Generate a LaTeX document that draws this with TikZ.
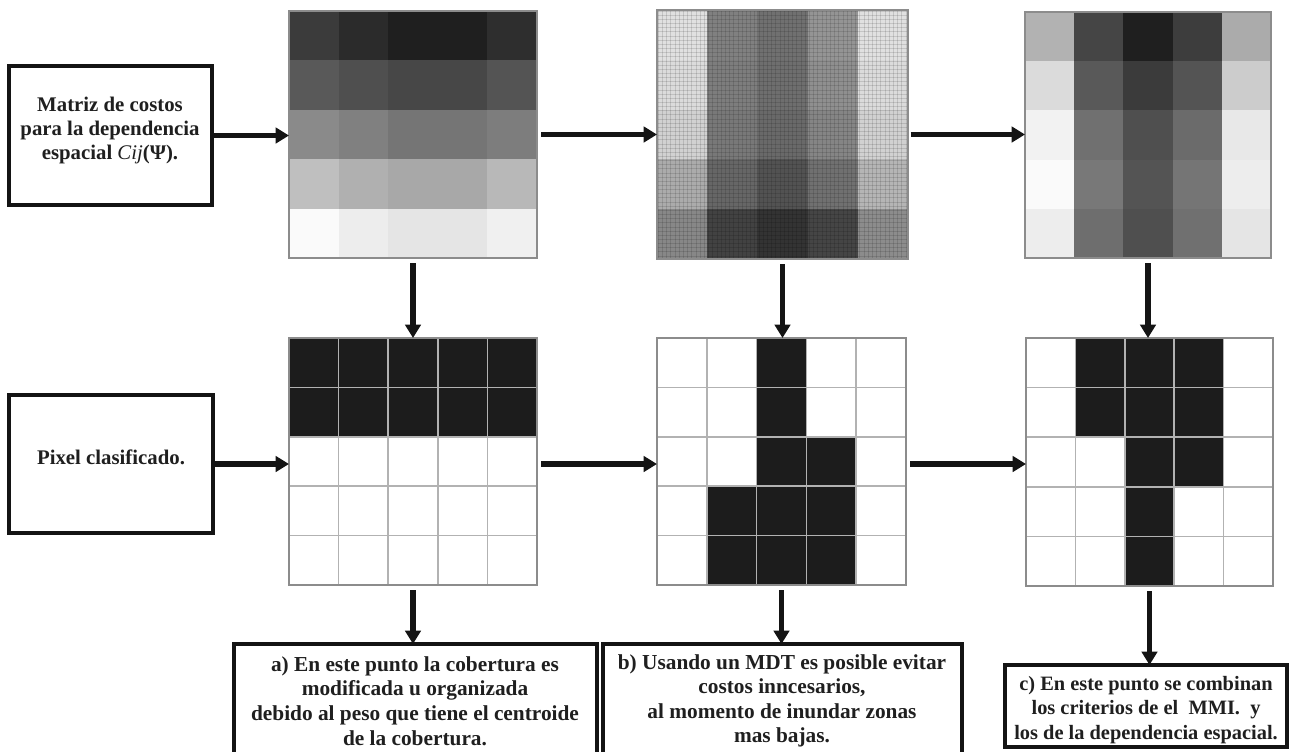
\documentclass[tikz,border=0pt]{standalone}
\usepackage{fontspec}
\setmainfont{Liberation Serif}
\usetikzlibrary{arrows.meta,fit,calc}

\tikzset{
  arr/.style={line width=3.9pt, black!92, -{Triangle[length=10pt,width=11.5pt]}},
  box/.style={draw=black!92, line width=2.6pt, inner sep=0pt, outer sep=0pt},
  area/.style={inner sep=0pt, outer sep=0pt},
  txt/.style={font=\bfseries\fontsize{16pt}{18.4pt}\selectfont, align=center, text=black!88},
  ctxt/.style={font=\bfseries\fontsize{15.3pt}{18.4pt}\selectfont, align=center, text=black!88},
  ltxt/.style={font=\bfseries\fontsize{15.6pt}{18pt}\selectfont, align=center, text=black!88},
  gridln/.style={draw=black!30, line width=1.1pt},
  matborder/.style={draw=black!45, line width=1pt},
  hatch/.style={draw=black, opacity=0.12, line width=0.4pt}
}

% x0, y0, cell width, cell height, 25 values (percent black)
\newcommand\graymat[5]{%
  \foreach \v [count=\k from 0] in {#5} {
    \pgfmathtruncatemacro\mrow{floor(\k/5)}
    \pgfmathtruncatemacro\mcol{mod(\k,5)}
    \fill[black!\v] ({#1+\mcol*#3},{#2+\mrow*#4}) rectangle ++({#3+0.4},{#4+0.4});
  }
}
\newcommand\gridlines[4]{%
  \foreach \i in {1,...,4} {
    \draw[gridln] ({#1+\i*#3},#2) -- ++(0,{5*#4});
    \draw[gridln] (#1,{#2+\i*#4}) -- ++({5*#3},0);
  }
}

\begin{document}
\begin{tikzpicture}[x=0.75pt,y=-0.75pt]
\useasboundingbox (0,0) rectangle (1295,751);
\fill[white] (0,0) rectangle (1295,751);
\begin{scope}
\clip (0,0) rectangle (1295,751);

% ---------- top gray matrices ----------
\graymat{289}{11}{49.6}{49.4}{77,83,88,88,82, 65,69,72,72,67, 46,50,54,54,51, 25,31,34,34,28, 2,7,10,10,6}
\node[area, fit={(289,11) (537,258)}] (m1) {};
\draw[matborder] (289,11) rectangle (537,258);

\graymat{657}{10}{50.2}{49.8}{12,50,56,42,12, 14,51,57,44,14, 18,53,59,48,18, 33,60,68,56,29, 47,74,80,73,45}
\foreach \i in {0,...,59} {
  \draw[hatch] ({658+\i*4.2},10) -- ++(0,249);
  \draw[hatch] (657,{11+\i*4.15}) -- ++(251,0);
}
\node[area, fit={(657,10) (908,259)}] (m2) {};
\draw[matborder] (657,10) rectangle (908,259);

\graymat{1025}{12}{49.2}{49.2}{30,73,88,76,33, 14,65,77,67,20, 5,56,69,58,9, 2,53,67,54,7, 7,57,69,56,10}
\node[area, fit={(1025,12) (1271,258)}] (m3) {};
\draw[matborder] (1025,12) rectangle (1271,258);

% ---------- classified grids ----------
\graymat{289}{338}{49.6}{49.4}{89,89,89,89,89, 89,89,89,89,89, 0,0,0,0,0, 0,0,0,0,0, 0,0,0,0,0}
\gridlines{289}{338}{49.6}{49.4}
\node[area, fit={(289,338) (537,585)}] (g1) {};
\draw[matborder] (289,338) rectangle (537,585);

\graymat{657}{338}{49.8}{49.4}{0,0,89,0,0, 0,0,89,0,0, 0,0,89,89,0, 0,89,89,89,0, 0,89,89,89,0}
\gridlines{657}{338}{49.8}{49.4}
\node[area, fit={(657,338) (906,585)}] (g2) {};
\draw[matborder] (657,338) rectangle (906,585);

\graymat{1026}{338}{49.4}{49.6}{0,89,89,89,0, 0,89,89,89,0, 0,0,89,89,0, 0,0,89,0,0, 0,0,89,0,0}
\gridlines{1026}{338}{49.4}{49.6}
\node[area, fit={(1026,338) (1273,586)}] (g3) {};
\draw[matborder] (1026,338) rectangle (1273,586);

% ---------- left boxes ----------
\node[box, fit={(9,66) (212,205)}] (b1) {};
\node[ltxt] (t1) at (110,130) {Matriz de costos\\para la dependencia\\espacial {\normalfont\itshape Cij}(Ψ).};
\node[box, fit={(9,395) (213,533)}] (b2) {};
\node[ltxt] (t2) at (111,457) {Pixel clasificado.};

% ---------- bottom boxes ----------
\node[box, fit={(234,644) (597,775)}] (ba) {};
\node[txt] (ta) at (415,701) {a) En este punto la cobertura es\\modificada u organizada\\debido al peso que tiene el centroide\\de la cobertura.};
\node[box, fit={(603,644) (962,775)}] (bb) {};
\node[txt] (tb) at (782,701) {b) Usando un MDT es posible evitar\\costos inncesarios,\\al momento de inundar zonas\\mas bajas.};
\node[box, fit={(1005,665) (1287,747)}] (bc) {};
\node[ctxt] (tc) at (1146,710) {c) En este punto se combinan\\los criterios de el~ MMI.~ y\\los de la dependencia espacial.};

% ---------- arrows ----------
\draw[arr] (b1.east) -- (b1.east -| m1.west);
\draw[arr, shorten <=3pt] (m1.east) -- (m1.east -| m2.west);
\draw[arr, shorten <=2pt] (m2.east) -- (m2.east -| m3.west);

\draw[arr] (b2.east) -- (b2.east -| g1.west);
\draw[arr, shorten <=3pt] (g1.east |- b2.east) -- (g2.west |- b2.east);
\draw[arr, shorten <=3pt] (g2.east |- b2.east) -- (g3.west |- b2.east);

\draw[arr, shorten <=4pt] (m1.south) -- (m1.south |- g1.north);
\draw[arr, shorten <=4pt] (m2.south) -- (m2.south |- g2.north);
\draw[arr, shorten <=4pt] (m3.south) -- (m3.south |- g3.north);

\draw[arr, shorten <=4pt] (g1.south) -- (g1.south |- ba.north);
\draw[arr, shorten <=4pt] (g2.south) -- (g2.south |- bb.north);
\draw[arr, shorten <=4pt] (g3.south) -- (g3.south |- bc.north);
\end{scope}
\end{tikzpicture}
\end{document}
